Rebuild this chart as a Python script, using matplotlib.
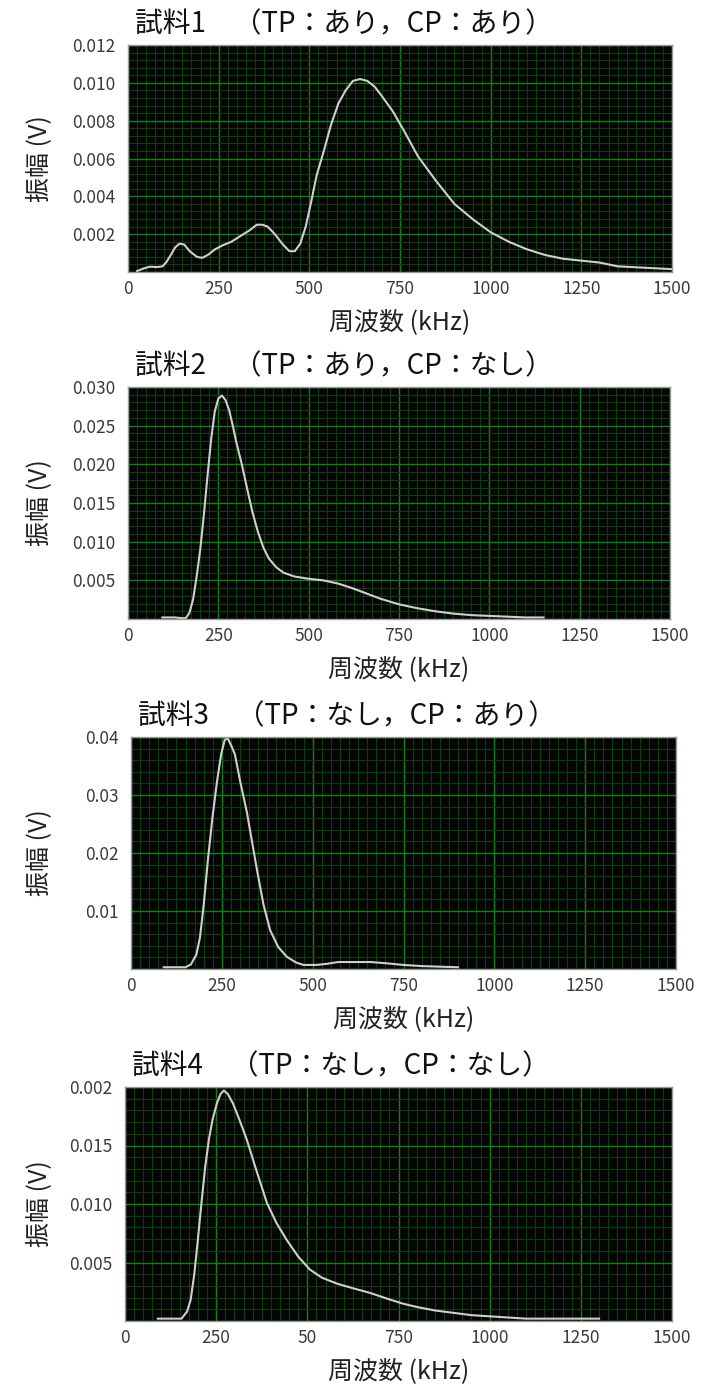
import matplotlib
matplotlib.use("Agg")
import matplotlib.pyplot as plt
from matplotlib.ticker import MultipleLocator

plt.rcParams['font.family'] = ['Noto Sans CJK JP', 'DejaVu Sans']

# --- data (kHz, V) ---
freq1 = [25, 45, 60, 80, 95, 105, 118, 130, 142, 155, 170, 190, 205, 220, 240, 260,
         285, 310, 335, 355, 370, 385, 405, 425, 445, 460, 475, 490, 505, 520, 540,
         560, 580, 600, 620, 640, 660, 680, 700, 730, 760, 800, 850, 900, 950, 1000,
         1050, 1100, 1150, 1200, 1250, 1300, 1350, 1400, 1450, 1500]
amp1 = [0.00005, 0.0002, 0.00028, 0.00026, 0.0003, 0.0005, 0.0009, 0.0013, 0.0015,
        0.00145, 0.0011, 0.0008, 0.00075, 0.0009, 0.0012, 0.0014, 0.0016, 0.0019,
        0.0022, 0.0025, 0.0025, 0.0024, 0.002, 0.0015, 0.0011, 0.0011, 0.0015, 0.0024,
        0.0037, 0.0051, 0.0064, 0.0078, 0.0089, 0.0096, 0.0101, 0.0102, 0.0101, 0.0098,
        0.0093, 0.0085, 0.0075, 0.0061, 0.0048, 0.0036, 0.0028, 0.0021, 0.0016, 0.0012,
        0.0009, 0.0007, 0.0006, 0.0005, 0.0003, 0.00025, 0.0002, 0.00015]

freq2 = [95, 130, 150, 160, 170, 180, 190, 200, 210, 220, 230, 240, 250, 260, 270,
         280, 290, 300, 315, 330, 345, 360, 375, 390, 410, 430, 460, 500, 540, 580,
         620, 660, 700, 750, 800, 850, 900, 950, 1000, 1050, 1100, 1150]
amp2 = [0.0002, 0.0002, 0.0001, 0.0001, 0.0008, 0.0025, 0.0055, 0.009, 0.0135, 0.0185,
        0.0232, 0.0268, 0.0285, 0.0289, 0.0283, 0.027, 0.025, 0.0228, 0.02, 0.0168,
        0.0137, 0.0112, 0.0092, 0.0078, 0.0067, 0.006, 0.0055, 0.0052, 0.005, 0.0046,
        0.004, 0.0033, 0.0026, 0.0019, 0.0014, 0.001, 0.0007, 0.0005, 0.0004, 0.0003,
        0.0002, 0.0002]

freq3 = [90, 150, 165, 180, 190, 200, 212, 224, 236, 248, 258, 266, 276, 286, 300,
         319, 333, 347, 365, 383, 405, 429, 455, 475, 510, 540, 570, 620, 660, 700,
         750, 800, 850, 900]
amp3 = [0.0003, 0.0003, 0.0008, 0.0025, 0.0055, 0.011, 0.019, 0.026, 0.032, 0.037,
        0.0395, 0.0398, 0.0385, 0.037, 0.0325, 0.027, 0.022, 0.017, 0.011, 0.0067,
        0.0038, 0.0021, 0.0011, 0.0007, 0.0007, 0.0009, 0.0012, 0.0012, 0.0012, 0.001,
        0.0007, 0.0005, 0.0004, 0.0003]

freq4 = [90, 155, 170, 180, 190, 200, 210, 220, 230, 240, 252, 262, 271, 282, 296,
         315, 334, 360, 389, 415, 444, 475, 507, 540, 581, 625, 672, 720, 760, 800,
         850, 900, 950, 1000, 1100, 1200, 1300]
amp4 = [0.0002, 0.0002, 0.0008, 0.0018, 0.004, 0.007, 0.0102, 0.0132, 0.0155, 0.0172,
        0.0186, 0.0194, 0.0197, 0.0194, 0.0186, 0.0171, 0.0155, 0.0129, 0.0101, 0.0084,
        0.0069, 0.0055, 0.0044, 0.0037, 0.0032, 0.0028, 0.0024, 0.0019, 0.0015, 0.0012,
        0.0009, 0.0007, 0.0005, 0.0004, 0.0002, 0.0002, 0.0002]

titles = ["試料1　（TP：あり，CP：あり）",
          "試料2　（TP：あり，CP：なし）",
          "試料3　（TP：なし，CP：あり）",
          "試料4　（TP：なし，CP：なし）"]

xticks = [0, 250, 500, 750, 1000, 1250, 1500]
xlabels = ["0", "250", "500", "750", "1000", "1250", "1500"]
xlabels4 = ["0", "250", "50", "750", "1000", "1250", "1500"]

yticks1 = [0.002, 0.004, 0.006, 0.008, 0.010, 0.012]
ylabels1 = ["0.002", "0.004", "0.006", "0.008", "0.010", "0.012"]
yticks2 = [0.005, 0.010, 0.015, 0.020, 0.025, 0.030]
ylabels2 = ["0.005", "0.010", "0.015", "0.020", "0.025", "0.030"]
yticks3 = [0.01, 0.02, 0.03, 0.04]
ylabels3 = ["0.01", "0.02", "0.03", "0.04"]
yticks4 = [0.005, 0.010, 0.015, 0.020]
ylabels4 = ["0.005", "0.010", "0.015", "0.002"]

W, H = 702, 1392
fig = plt.figure(figsize=(W / 100, H / 100), dpi=100)

# axes boxes in pixels: left, top, right, bottom
boxes = [(128, 45, 672, 272), (128, 387, 670, 619), (131, 737, 676, 969), (125, 1087, 672, 1321)]
panels = [
    (freq1, amp1, 0.012, 0.002, yticks1, ylabels1, xlabels),
    (freq2, amp2, 0.030, 0.005, yticks2, ylabels2, xlabels),
    (freq3, amp3, 0.040, 0.010, yticks3, ylabels3, xlabels),
    (freq4, amp4, 0.020, 0.005, yticks4, ylabels4, xlabels4),
]

for i, (box, p) in enumerate(zip(boxes, panels)):
    l, t, r, b = box
    fx, fy, ymax, ymaj, yt, yl, xl = p
    ax = fig.add_axes([l / W, 1 - b / H, (r - l) / W, (b - t) / H])
    ax.set_facecolor("#050505")
    ax.plot(fx, fy, color="#cfcfcf", lw=1.5)
    ax.set_xlim(0, 1500)
    ax.set_ylim(0, ymax)

    ax.xaxis.set_major_locator(MultipleLocator(250))
    ax.xaxis.set_minor_locator(MultipleLocator(25))
    ax.yaxis.set_major_locator(MultipleLocator(ymaj))
    ax.yaxis.set_minor_locator(MultipleLocator(ymaj / 5))
    ax.grid(True, which="major", color="#177d17", lw=1.0)
    ax.grid(True, which="minor", color="#0c3e0c", lw=0.8)
    ax.set_axisbelow(True)

    ax.set_xticks(xticks)
    ax.set_xticklabels(xl)
    ax.set_yticks(yt)
    ax.set_yticklabels(yl)
    ax.tick_params(which="both", length=0, labelsize=12.5, colors="#3a3a3a")
    ax.tick_params(axis="y", pad=9)
    ax.tick_params(axis="x", pad=6)
    for s in ax.spines.values():
        s.set_color("#9a9a9a")
        s.set_linewidth(1)

    ax.set_xlabel("周波数 (kHz)", fontsize=18, color="#222222", labelpad=8)
    ax.set_ylabel("振幅 (V)", fontsize=18, color="#222222")
    ax.yaxis.set_label_coords((52 - l) / (r - l), 0.5)

    ax.annotate(titles[i], xy=(0, 1), xycoords="axes fraction",
                xytext=(7, 21), textcoords="offset pixels",
                ha="left", va="center", fontsize=20, color="#111111")

fig.savefig("out.png", dpi=100, facecolor="white")
